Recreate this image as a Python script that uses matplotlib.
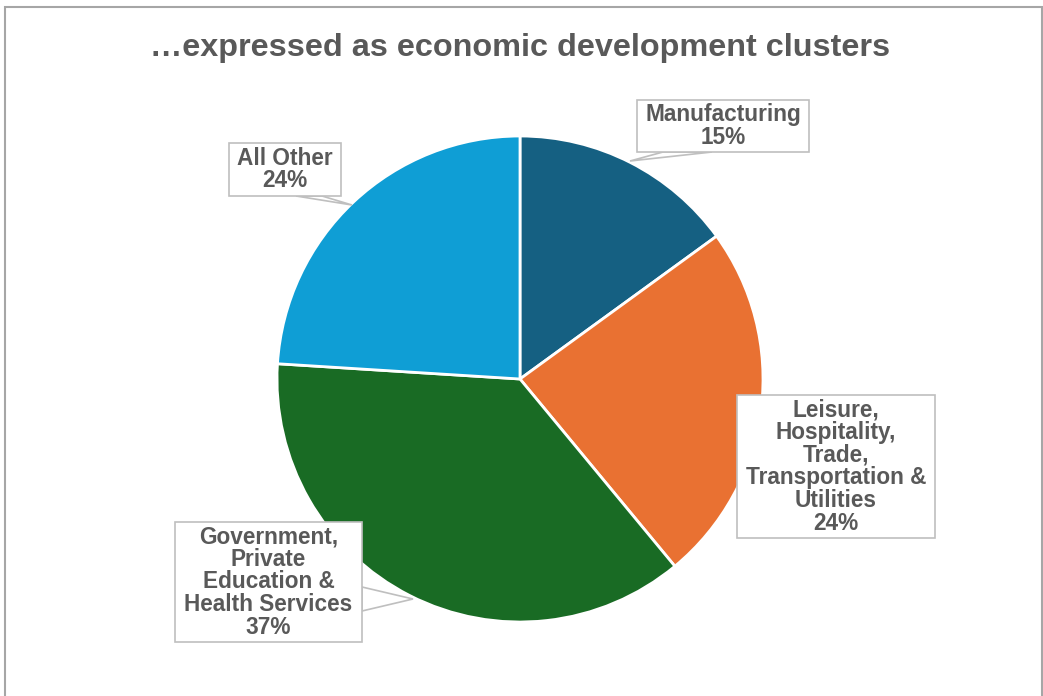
import matplotlib.pyplot as plt
from matplotlib.patches import Rectangle, Polygon

# cluster shares (percent of employment)
clusters = ["Manufacturing",
            "Leisure,\nHospitality,\nTrade,\nTransportation &\nUtilities",
            "Government,\nPrivate\nEducation &\nHealth Services",
            "All Other"]
shares = [15, 24, 37, 24]
colors = ["#156082", "#E97132", "#196B24", "#0F9ED5"]

W, H = 1043, 696
fig = plt.figure(figsize=(W / 100, H / 100), dpi=100)
ax = fig.add_axes([0, 0, 1, 1])

def py(y):
    # pixel row -> data y
    return H - y

ax.pie(shares, colors=colors, startangle=90, counterclock=False,
       center=(520, py(379)), radius=243, frame=True,
       wedgeprops=dict(edgecolor="white", linewidth=2))
ax.set_xlim(0, W)
ax.set_ylim(0, H)
ax.set_aspect("equal")
ax.axis("off")

# outer frame
ax.add_patch(Rectangle((5, py(720)), 1037, 713, fill=False,
                       edgecolor="#A6A6A6", lw=1.5, zorder=0))

ax.text(520, py(48), "\u2026expressed as economic development clusters",
        ha="center", va="center", fontsize=23.3, fontweight="bold",
        color="#595959", family="Liberation Sans")

# callout boxes: (left, top, right, bottom) in pixels, and tail (tip, base points)
boxes = [
    ((637, 100, 809, 152), [(630, 161), (663, 152), (712, 152)]),
    ((737, 395, 935, 538), None),
    ((175, 522, 362, 642), [(413, 599), (362, 587), (362, 611)]),
    ((229, 143, 341, 196), [(352, 205), (296, 196), (322, 196)]),
]

edge = "#BFBFBF"
for name, pct, (rect, tail) in zip(clusters, shares, boxes):
    l, t, r, b = rect
    if tail:
        ax.add_patch(Polygon([(x, py(y)) for x, y in tail], closed=True,
                             facecolor="white", edgecolor=edge, lw=1.2, zorder=3))
    ax.add_patch(Rectangle((l, py(b)), r - l, b - t, facecolor="white",
                           edgecolor=edge, lw=1.2, zorder=4))
    ax.text((l + r) / 2, py((t + b) / 2), f"{name}\n{pct}%",
            ha="center", va="center", fontsize=16.3, fontweight="bold",
            color="#595959", family="Liberation Sans", linespacing=0.98,
            zorder=5)

fig.savefig("out.png", dpi=100, facecolor="white")
